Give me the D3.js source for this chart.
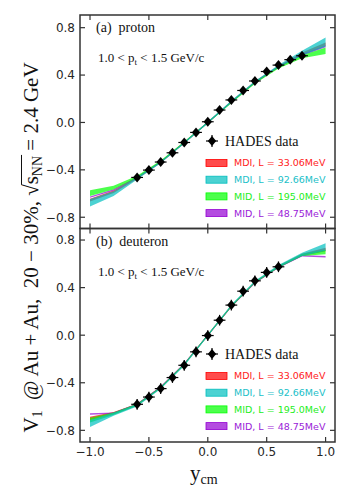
<!DOCTYPE html>
<html><head><meta charset="utf-8">
<script src="https://cdn.jsdelivr.net/npm/d3@7"></script>
<style>body{margin:0;background:#fff}svg{display:block}text{white-space:pre}</style>
</head><body>
<script>
// ---------- data ----------
const gridX = [-1.0, -0.8, -0.6, -0.4, -0.2, 0.0, 0.2, 0.4, 0.6, 0.8, 1.0];
const xTicks = [-1.0, -0.5, 0.0, 0.5, 1.0];
const yTicks = [-0.8, -0.4, 0.0, 0.4, 0.8];

const modelNames = ["MDI, L = 33.06MeV", "MDI, L = 92.66MeV", "MID, L = 195.0MeV", "MID, L = 48.75MeV"];
const modelFill = ["#ff0000", "#00bfbf", "#00ff00", "#9400d3"];
const modelText = ["#ff1a1a", "#1ac0c8", "#22ee22", "#9a1ad8"];
const drawOrder = [0, 3, 2, 1];

// proton band centres and half widths
const protonRed     = [-0.655, -0.585, -0.470, -0.335, -0.170, 0.000, 0.175, 0.340, 0.470, 0.580, 0.660];
const protonCyan    = [-0.678, -0.600, -0.472, -0.337, -0.172, 0.000, 0.177, 0.343, 0.475, 0.585, 0.679];
const protonGreen   = [-0.597, -0.550, -0.460, -0.330, -0.168, 0.000, 0.170, 0.335, 0.465, 0.555, 0.605];
const protonPurple  = [-0.630, -0.570, -0.465, -0.333, -0.170, 0.000, 0.173, 0.338, 0.470, 0.570, 0.642];
const protonRedW    = [0.012, 0.010, 0.008, 0.007, 0.007, 0.007, 0.007, 0.007, 0.008, 0.010, 0.014];
const protonCyanW   = [0.032, 0.020, 0.010, 0.008, 0.008, 0.008, 0.008, 0.008, 0.010, 0.020, 0.038];
const protonGreenW  = [0.024, 0.015, 0.010, 0.008, 0.007, 0.007, 0.007, 0.008, 0.010, 0.013, 0.028];
const protonPurpleW = [0.006, 0.006, 0.006, 0.006, 0.006, 0.006, 0.006, 0.006, 0.006, 0.007, 0.008];

// deuteron band centres and half widths
const deutRed     = [-0.700, -0.655, -0.585, -0.440, -0.245, 0.000, 0.245, 0.445, 0.575, 0.675, 0.720];
const deutCyan    = [-0.742, -0.665, -0.590, -0.445, -0.250, 0.000, 0.250, 0.450, 0.580, 0.680, 0.742];
const deutGreen   = [-0.715, -0.660, -0.585, -0.440, -0.245, 0.000, 0.245, 0.445, 0.575, 0.675, 0.700];
const deutPurple  = [-0.662, -0.655, -0.580, -0.435, -0.240, 0.000, 0.240, 0.440, 0.570, 0.668, 0.660];
const deutRedW    = [0.015, 0.010, 0.008, 0.007, 0.007, 0.007, 0.007, 0.007, 0.008, 0.010, 0.015];
const deutCyanW   = [0.030, 0.012, 0.010, 0.008, 0.008, 0.008, 0.008, 0.008, 0.010, 0.014, 0.032];
const deutGreenW  = [0.020, 0.010, 0.008, 0.007, 0.007, 0.007, 0.007, 0.007, 0.008, 0.010, 0.020];
const deutPurpleW = [0.006, 0.006, 0.006, 0.006, 0.006, 0.006, 0.006, 0.006, 0.006, 0.006, 0.006];

// HADES data
const protonX = [-0.6, -0.5, -0.4, -0.3, -0.2, -0.1, 0.0, 0.1, 0.2, 0.3, 0.4, 0.5, 0.6, 0.7, 0.8];
const protonY = [-0.464, -0.402, -0.334, -0.256, -0.169, -0.084, 0.006, 0.105, 0.190, 0.270, 0.350, 0.430, 0.484, 0.530, 0.563];
const protonYErr = 0.015;
const deutX = [-0.6, -0.5, -0.4, -0.3, -0.2, -0.1, 0.0, 0.1, 0.2, 0.3, 0.4, 0.5, 0.6];
const deutY = [-0.581, -0.520, -0.449, -0.356, -0.253, -0.140, -0.003, 0.126, 0.253, 0.370, 0.457, 0.528, 0.575];
const deutYErr = 0.045;
const dataXErr = 0.05;

// ---------- layout ----------
const W = 350, H = 500;
const L = 80, R = 335;
const panels = [
  {top: 15, bottom: 228.5, domain: [-0.895, 0.907], label: "(a)  proton",
   centres: [protonRed, protonCyan, protonGreen, protonPurple],
   widths: [protonRedW, protonCyanW, protonGreenW, protonPurpleW],
   px: protonX, py: protonY, yerr: protonYErr, legendY: 141},
  {top: 228.5, bottom: 442, domain: [-0.898, 0.897], label: "(b)  deuteron",
   centres: [deutRed, deutCyan, deutGreen, deutPurple],
   widths: [deutRedW, deutCyanW, deutGreenW, deutPurpleW],
   px: deutX, py: deutY, yerr: deutYErr, legendY: 354}
];

const svg = d3.select("body").append("svg").attr("width", W).attr("height", H);
const x = d3.scaleLinear().domain([-1.085, 1.08]).range([L, R]);
const frameColor = "#333";
const tickLen = 5;
const serif = "Liberation Serif, Times New Roman, serif";

function diamond(cx, cy, hw, hh) {
  return `M${cx},${cy - hh}L${cx + hw},${cy}L${cx},${cy + hh}L${cx - hw},${cy}Z`;
}

panels.forEach((p, pi) => {
  const y = d3.scaleLinear().domain(p.domain).range([p.bottom, p.top]);
  const g = svg.append("g");
  const clipId = "clip" + pi;
  svg.append("clipPath").attr("id", clipId).append("rect")
    .attr("x", L).attr("y", p.top).attr("width", R - L).attr("height", p.bottom - p.top);

  // bands
  const bands = g.append("g").attr("clip-path", `url(#${clipId})`);
  drawOrder.forEach(mi => {
    const pts = gridX.map((xv, i) => ({x: xv, c: p.centres[mi][i], w: p.widths[mi][i]}));
    const area = d3.area().x(d => x(d.x)).y0(d => y(d.c - d.w)).y1(d => y(d.c + d.w));
    bands.append("path").attr("d", area(pts)).attr("fill", modelFill[mi]).attr("fill-opacity", 0.7);
  });

  // data
  const dg = g.append("g");
  p.px.forEach((xv, i) => {
    const cx = x(xv), cy = y(p.py[i]);
    dg.append("line").attr("x1", x(xv - dataXErr)).attr("x2", x(xv + dataXErr))
      .attr("y1", cy).attr("y2", cy).attr("stroke", "#000").attr("stroke-width", 1.2);
    dg.append("line").attr("x1", cx).attr("x2", cx)
      .attr("y1", y(p.py[i] - p.yerr)).attr("y2", y(p.py[i] + p.yerr)).attr("stroke", "#000").attr("stroke-width", 1.2);
    dg.append("path").attr("d", diamond(cx, cy, 4.2, 5)).attr("fill", "#000");
  });

  // frame
  g.append("rect").attr("x", L).attr("y", p.top).attr("width", R - L).attr("height", p.bottom - p.top)
    .attr("fill", "none").attr("stroke", frameColor).attr("stroke-width", 1.5);

  // ticks
  xTicks.forEach(t => {
    g.append("line").attr("x1", x(t)).attr("x2", x(t)).attr("y1", p.bottom).attr("y2", p.bottom - tickLen)
      .attr("stroke", frameColor).attr("stroke-width", 1.2);
    g.append("line").attr("x1", x(t)).attr("x2", x(t)).attr("y1", p.top).attr("y2", p.top + tickLen)
      .attr("stroke", frameColor).attr("stroke-width", 1.2);
  });
  yTicks.forEach(t => {
    g.append("line").attr("x1", L).attr("x2", L + tickLen).attr("y1", y(t)).attr("y2", y(t))
      .attr("stroke", frameColor).attr("stroke-width", 1.2);
    g.append("line").attr("x1", R).attr("x2", R - tickLen).attr("y1", y(t)).attr("y2", y(t))
      .attr("stroke", frameColor).attr("stroke-width", 1.2);
    g.append("text").attr("x", L - 5).attr("y", y(t)).attr("dy", "0.36em")
      .attr("text-anchor", "end").attr("font-family", "DejaVu Sans").attr("font-size", 12)
      .attr("fill", "#262626").text(d3.format(".1f")(t).replace("-", "\u2212"));
  });

  // panel texts
  g.append("text").attr("x", 96).attr("y", p.top + 17).attr("font-family", serif)
    .attr("font-size", 14).attr("fill", "#111").text(p.label);
  const pt = g.append("text").attr("x", 98).attr("y", p.top + 47)
    .attr("font-family", serif).attr("font-size", 13).attr("fill", "#111");
  pt.append("tspan").text("1.0 < p");
  pt.append("tspan").attr("font-size", 9).attr("dy", 3).text("t");
  pt.append("tspan").attr("dy", -3).text(" < 1.5 GeV/c");

  // legend
  const ly = p.legendY;
  const lx = 212;
  g.append("line").attr("x1", lx - 6).attr("x2", lx + 6).attr("y1", ly).attr("y2", ly).attr("stroke", "#000").attr("stroke-width", 1.2);
  g.append("line").attr("x1", lx).attr("x2", lx).attr("y1", ly - 6).attr("y2", ly + 6).attr("stroke", "#000").attr("stroke-width", 1.2);
  g.append("path").attr("d", diamond(lx, ly, 4.2, 5)).attr("fill", "#000");
  g.append("text").attr("x", 225).attr("y", ly + 5).attr("font-family", serif)
    .attr("font-size", 14).attr("fill", "#111").text("HADES data");
  modelNames.forEach((name, i) => {
    const ry = ly + 22 + i * 16.7;
    g.append("rect").attr("x", 206).attr("y", ry - 3.5).attr("width", 21).attr("height", 7)
      .attr("fill", modelFill[i]).attr("fill-opacity", 0.7)
      .attr("stroke", modelFill[i]).attr("stroke-width", 0.8);
    g.append("text").attr("x", 234).attr("y", ry).attr("dy", "0.36em")
      .attr("font-family", "DejaVu Sans").attr("font-size", 9.5).attr("fill", modelText[i]).text(name);
  });
});

// x tick labels (bottom panel only)
xTicks.forEach(t => {
  svg.append("text").attr("x", x(t)).attr("y", 456).attr("text-anchor", "middle")
    .attr("font-family", "DejaVu Sans").attr("font-size", 12).attr("fill", "#262626")
    .text(d3.format(".1f")(t).replace("-", "\u2212"));
});

// x label
const xl = svg.append("text").attr("x", 190).attr("y", 480)
  .attr("font-family", serif).attr("font-size", 21).attr("fill", "#111");
xl.append("tspan").text("y");
xl.append("tspan").attr("font-size", 14).attr("dy", 4).text("cm");

// y label
const yFont = 21;
const yg = svg.append("g").attr("transform", "translate(37.5,247.5) rotate(-90)");
const yt = yg.append("text").attr("x", 0).attr("y", 0).attr("text-anchor", "middle")
  .attr("font-family", serif).attr("font-size", yFont).attr("fill", "#111");
yt.append("tspan").text("V");
yt.append("tspan").attr("font-size", 14).attr("dy", 4).text("1");
yt.append("tspan").attr("dy", -4).text("  @ Au + Au,  20 \u2212 30%, \u221A");
yt.append("tspan").text("s");
yt.append("tspan").attr("font-size", 14).attr("dy", 4).text("NN");
yt.append("tspan").attr("dy", -4).text(" = 2.4 GeV");
// overline of the square root over s_NN
const full = yt.text();
const sIdx = full.indexOf("\u221As") + 1;
const nnEnd = sIdx + 2;
const e0 = yt.node().getExtentOfChar(sIdx - 1);
const e2 = yt.node().getExtentOfChar(nnEnd);
yg.append("line").attr("x1", e0.x + e0.width - 0.5).attr("x2", e2.x + e2.width + 1)
  .attr("y1", -16).attr("y2", -16).attr("stroke", "#111").attr("stroke-width", 1);
</script>
</body></html>
